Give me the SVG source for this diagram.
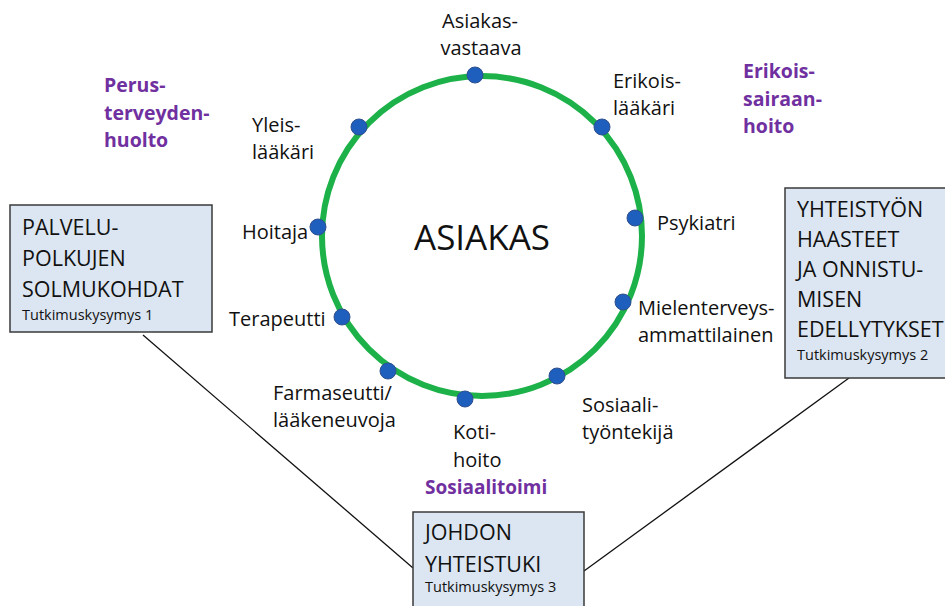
<svg xmlns="http://www.w3.org/2000/svg" width="945" height="606" viewBox="0 0 945 606">
  <style>
    .lbl { font-family: "Open Sans", "Liberation Sans", sans-serif; font-size: 20px; fill: #111; }
    .grp { font-family: "Open Sans", "Liberation Sans", sans-serif; font-size: 19.5px; font-weight: bold; fill: #7030a0; }
    .box { fill: #dce6f2; stroke: #3a3a3a; stroke-width: 1.5; }
    .bt { font-family: "Open Sans", "Liberation Sans", sans-serif; font-size: 21.5px; fill: #111; }
    .bs { font-family: "Open Sans", "Liberation Sans", sans-serif; font-size: 14.5px; fill: #111; }
    .dot { fill: #1e5fbe; stroke: #2f4f8f; stroke-width: 1; }
    .conn { stroke: #111; stroke-width: 1.3; fill: none; }
  </style>
  <rect width="945" height="606" fill="#ffffff"/>

  <g id="connectors">
    <line class="conn" x1="143" y1="335" x2="413" y2="568"/>
    <line class="conn" x1="849" y1="378" x2="584" y2="571"/>
  </g>

  <g id="ring">
    <circle cx="482" cy="236" r="160" fill="none" stroke="#1db249" stroke-width="6"/>
    <text class="lbl" x="482" y="250" text-anchor="middle" style="font-size:35px">ASIAKAS</text>
  </g>

  <g id="node-asiakasvastaava">
    <circle class="dot" cx="475" cy="75" r="8"/>
    <text class="lbl" x="480" y="28" text-anchor="middle">Asiakas-</text>
    <text class="lbl" x="481" y="55" text-anchor="middle">vastaava</text>
  </g>
  <g id="node-erikoislaakari">
    <circle class="dot" cx="602" cy="127" r="8"/>
    <text class="lbl" x="613" y="88">Erikois-</text>
    <text class="lbl" x="613" y="115">lääkäri</text>
  </g>
  <g id="node-psykiatri">
    <circle class="dot" cx="635" cy="218" r="8"/>
    <text class="lbl" x="657" y="230">Psykiatri</text>
  </g>
  <g id="node-mielenterveys">
    <circle class="dot" cx="623" cy="302" r="8"/>
    <text class="lbl" x="638" y="315">Mielenterveys-</text>
    <text class="lbl" x="638" y="342">ammattilainen</text>
  </g>
  <g id="node-sosiaalityontekija">
    <circle class="dot" cx="557" cy="376" r="8"/>
    <text class="lbl" x="582" y="412">Sosiaali-</text>
    <text class="lbl" x="582" y="439">työntekijä</text>
  </g>
  <g id="node-kotihoito">
    <circle class="dot" cx="465" cy="399" r="8"/>
    <text class="lbl" x="453" y="439">Koti-</text>
    <text class="lbl" x="453" y="467">hoito</text>
  </g>
  <g id="node-farmaseutti">
    <circle class="dot" cx="388" cy="371" r="8"/>
    <text class="lbl" x="273" y="400">Farmaseutti/</text>
    <text class="lbl" x="273" y="427">lääkeneuvoja</text>
  </g>
  <g id="node-terapeutti">
    <circle class="dot" cx="342" cy="317" r="8"/>
    <text class="lbl" x="229" y="326">Terapeutti</text>
  </g>
  <g id="node-hoitaja">
    <circle class="dot" cx="318" cy="227" r="8"/>
    <text class="lbl" x="242" y="239">Hoitaja</text>
  </g>
  <g id="node-yleislaakari">
    <circle class="dot" cx="359" cy="127" r="8"/>
    <text class="lbl" x="252" y="132">Yleis-</text>
    <text class="lbl" x="252" y="159">lääkäri</text>
  </g>

  <g id="group-perusterveydenhuolto">
    <text class="grp" x="104" y="92">Perus-</text>
    <text class="grp" x="104" y="120">terveyden-</text>
    <text class="grp" x="104" y="147">huolto</text>
  </g>
  <g id="group-erikoissairaanhoito">
    <text class="grp" x="743" y="78">Erikois-</text>
    <text class="grp" x="743" y="106">sairaan-</text>
    <text class="grp" x="743" y="133">hoito</text>
  </g>
  <g id="group-sosiaalitoimi">
    <text class="grp" x="425" y="494" style="font-size:19px">Sosiaalitoimi</text>
  </g>

  <g id="box-palvelupolkujen">
    <rect class="box" x="10" y="205" width="202" height="127"/>
    <text class="bt" x="22" y="235">PALVELU-</text>
    <text class="bt" x="22" y="266">POLKUJEN</text>
    <text class="bt" x="22" y="297">SOLMUKOHDAT</text>
    <text class="bs" x="22" y="320">Tutkimuskysymys 1</text>
  </g>
  <g id="box-yhteistyon">
    <rect class="box" x="785" y="188" width="170" height="190"/>
    <text class="bt" x="797" y="217">YHTEISTYÖN</text>
    <text class="bt" x="797" y="247">HAASTEET</text>
    <text class="bt" x="797" y="277">JA ONNISTU-</text>
    <text class="bt" x="797" y="307">MISEN</text>
    <text class="bt" x="797" y="337">EDELLYTYKSET</text>
    <text class="bs" x="797" y="360">Tutkimuskysymys 2</text>
  </g>
  <g id="box-johdon">
    <rect class="box" x="413" y="512" width="171" height="100"/>
    <text class="bt" x="425" y="540">JOHDON</text>
    <text class="bt" x="425" y="572">YHTEISTUKI</text>
    <text class="bs" x="425" y="592">Tutkimuskysymys 3</text>
  </g>
</svg>
